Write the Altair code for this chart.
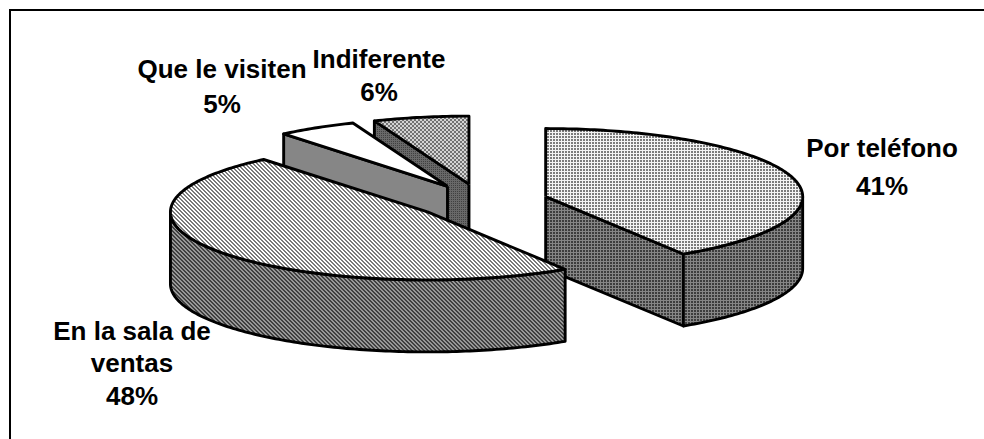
import math
import altair as alt
import pandas as pd

# Survey shares, clockwise from twelve o'clock
categories = ["Por teléfono", "En la sala de ventas", "Que le visiten", "Indiferente"]
shares = [41, 48, 5, 6]
label_lines = [["Por teléfono"], ["En la sala de", "ventas"], ["Que le visiten"], ["Indiferente"]]

# Pie projection, in canvas units
W, H = 984, 439
CX, CY = 481.5, 201.5
RX, RY = 257, 68
DEPTH = 72
EXPLODE = 0.26
INK = "#000000"
CLEAR = "rgba(255,255,255,0)"

# Centre of each text line: one x per label, one y per line
label_x = [882, 132, 222, 379]
label_y = [[149, 187], [332, 364, 397], [70, 105], [60, 93]]


def point(cx, cy, deg, drop=0.0):
    a = math.radians(deg)
    return (cx + RX * math.sin(a), cy - RY * math.cos(a) + drop)


def arc(cx, cy, a0, a1, drop=0.0):
    n = max(2, int(abs(a1 - a0)) + 1)
    return [point(cx, cy, a0 + (a1 - a0) * i / n, drop) for i in range(n + 1)]


def stripes(pts, kind, period, width, on, off):
    """Hard-stop gradient whose bands stay on a global pixel lattice."""
    xs, ys = [p[0] for p in pts], [p[1] for p in pts]
    x0, x1, y0, y1 = min(xs), max(xs), min(ys), max(ys)
    w, h = x1 - x0, y1 - y0
    k = (w + h) / (w * w + h * h)
    phase = 0.0
    if kind == "v":
        lo, hi, vec = x0, x1, dict(x1=0, y1=0, x2=1, y2=0)
    elif kind == "h":
        lo, hi, vec = y0, y1, dict(x1=0, y1=0, x2=0, y2=1)
    elif kind == "a":
        # x+y is a whole number at pixel centres, so diagonal band edges sit half a unit off
        phase = 0.5
        lo, hi, vec = x0 + y0, x1 + y1, dict(x1=0, y1=0, x2=w * k, y2=h * k)
    else:
        phase = 0.5
        lo, hi, vec = x0 - y1, x1 - y0, dict(x1=0, y1=1, x2=w * k, y2=1 - h * k)
    span = hi - lo
    pos = lambda c: min(1.0, max(0.0, (c - lo) / span))
    stops = []
    c = math.floor(lo / period) * period + phase
    while c < hi:
        stops += [
            {"offset": pos(c), "color": on},
            {"offset": pos(c + width), "color": on},
            {"offset": pos(c + width), "color": off},
            {"offset": pos(c + period), "color": off},
        ]
        c += period
    return {"gradient": "linear", "stops": stops, **vec}


def grid(cell, line, period=3):
    return [cell, ("h", period, 1, line, CLEAR), ("v", period, 1, line, CLEAR)]


# Fill recipes: a base colour followed by band overlays
TOP_PHONE = grid("#7c7c7c", "#f4f4f4")
SIDE_PHONE = grid("#3e3e3e", "#868686")
TOP_ROOM = ["#ffffff", ("d", 4, 2, "#7a7a7a", CLEAR)]
SIDE_ROOM = ["#989898", ("d", 4, 2, "#404040", CLEAR)]
TOP_VISIT = ["#ffffff"]
SIDE_VISIT = ["#868686"]
TOP_NEUTRAL = ["#727272", ("d", 4, 1, "#d4d4d4", CLEAR), ("a", 4, 1, "#d4d4d4", CLEAR)]
SIDE_NEUTRAL = grid("#404040", "#686868", 2)


def polygon_layers(pts, recipe):
    closed = list(pts) + [pts[0]]
    df = pd.DataFrame({"x": [p[0] for p in closed], "y": [p[1] for p in closed], "i": range(len(closed))})
    enc = dict(
        x=alt.X("x:Q", axis=None, scale=alt.Scale(domain=[0, W], nice=False, zero=False)),
        y=alt.Y("y:Q", axis=None, scale=alt.Scale(domain=[H, 0], nice=False, zero=False)),
        order=alt.Order("i:Q"),
    )
    out = []
    for part in recipe:
        fill = part if isinstance(part, str) else stripes(pts, *part)
        out.append(alt.Chart(df).mark_line(fill=fill, stroke=CLEAR, strokeWidth=0, clip=False).encode(**enc))
    out.append(alt.Chart(df).mark_line(stroke=INK, strokeWidth=2.9, strokeJoin="round").encode(**enc))
    return out


# Angular span and exploded centre of every slice
spans, start = [], 0.0
for s in shares:
    spans.append((start, start + s * 3.6))
    start += s * 3.6

centres = []
for a0, a1 in spans:
    mid = math.radians((a0 + a1) / 2)
    centres.append((CX + EXPLODE * RX * math.sin(mid), CY - EXPLODE * RY * math.cos(mid)))


def top_face(i):
    cx, cy = centres[i]
    return [(cx, cy)] + arc(cx, cy, *spans[i])


def cut_face(i, deg):
    cx, cy = centres[i]
    px, py = point(cx, cy, deg)
    return [(cx, cy), (px, py), (px, py + DEPTH), (cx, cy + DEPTH)]


def rim_face(i, a0, a1):
    cx, cy = centres[i]
    return arc(cx, cy, a0, a1) + arc(cx, cy, a1, a0, DEPTH)


# Painted back to front
layers = []
layers += polygon_layers(cut_face(3, spans[3][0]), SIDE_NEUTRAL)
layers += polygon_layers(top_face(3), TOP_NEUTRAL)
layers += polygon_layers(cut_face(2, spans[2][0]), SIDE_VISIT)
layers += polygon_layers(top_face(2), TOP_VISIT)
layers += polygon_layers(cut_face(0, spans[0][1]), SIDE_PHONE)
layers += polygon_layers(rim_face(0, 90, spans[0][1]), SIDE_PHONE)
layers += polygon_layers(top_face(0), TOP_PHONE)
layers += polygon_layers(rim_face(1, spans[1][0], 270), SIDE_ROOM)
layers += polygon_layers(top_face(1), TOP_ROOM)

# Two-or-three line captions: name lines, then the percentage
rows = []
for i, lines in enumerate(label_lines):
    for text, y in zip(lines + [f"{shares[i]}%"], label_y[i]):
        rows.append({"x": label_x[i], "y": y, "text": text})

captions = alt.Chart(pd.DataFrame(rows)).mark_text(
    font="Liberation Sans", fontWeight="bold", fontSize=26, color=INK, align="center", baseline="middle"
).encode(
    x=alt.X("x:Q", axis=None, scale=alt.Scale(domain=[0, W], nice=False, zero=False)),
    y=alt.Y("y:Q", axis=None, scale=alt.Scale(domain=[H, 0], nice=False, zero=False)),
    text="text:N",
)

# Frame: only the top and left edges fall inside the canvas
frame_top = alt.Chart(pd.DataFrame({"k": [0]})).mark_rule(color=INK, strokeWidth=2).encode(
    x=alt.value(9), x2=alt.value(W), y=alt.value(10)
)
frame_left = alt.Chart(pd.DataFrame({"k": [0]})).mark_rule(color=INK, strokeWidth=2).encode(
    x=alt.value(10), y=alt.value(9), y2=alt.value(H)
)

chart = alt.layer(*layers, captions, frame_top, frame_left).properties(
    width=W, height=H, padding=0, background="#ffffff",
    autosize=alt.AutoSizeParams(type="none"),
).configure_view(stroke=None)

chart.save("out.html", embed_options={"renderer": "svg", "actions": False})
